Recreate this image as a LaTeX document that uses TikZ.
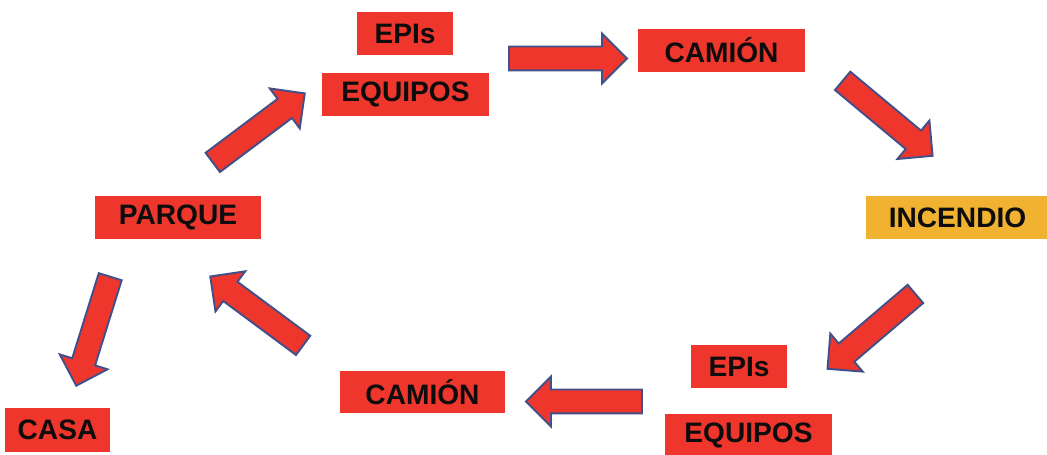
\documentclass[tikz,border=0pt]{standalone}
\usepackage{fontspec}
\setmainfont{Liberation Sans}
\usepackage{tikz}
\usetikzlibrary{shapes.arrows, calc}
\definecolor{boxred}{RGB}{238, 54, 44}
\definecolor{fireorange}{RGB}{241, 178, 50}
\definecolor{arrowedge}{RGB}{66, 80, 138}

\tikzset{
    tag/.style={fill=boxred, text=black!95, inner sep=0pt, minimum height=0.86cm,
        font=\fontsize{16}{18}\selectfont\bfseries},
    bigarrow/.style={single arrow, fill=boxred, draw=arrowedge, line width=1.1pt,
        inner xsep=0pt, inner ysep=0.22cm, single arrow head extend=0.26cm,
        single arrow tip angle=90}
}

% block arrow from #1 to #2
\newcommand{\fatarrow}[2]{%
    \path let \p1=($(#2)-(#1)$), \n1={atan2(\y1,\x1)}, \n2={veclen(\x1,\y1)} in
        ($(#1)!0.5!(#2)$) node[bigarrow, minimum height=\n2, rotate=\n1] {};}

\begin{document}
\begin{tikzpicture}
    \useasboundingbox (0,0) rectangle (20.94,9.1);
    % boxes
    \node[tag, minimum width=1.92cm] (episA) at (8.10,8.43) {EPIs};
    \node[tag, minimum width=3.34cm] (equiposA) at (8.11,7.21) {EQUIPOS};
    \node[tag, minimum width=3.34cm] (camionA) at (14.43,8.09) {CAMIÓN};
    \node[tag, fill=fireorange, minimum width=3.66cm] (incendio) at (19.15,4.75) {INCENDIO};
    \node[tag, minimum width=3.32cm] (parque) at (3.56,4.75) {PARQUE};
    \node[tag, minimum width=2.10cm, minimum height=0.88cm] (casa) at (1.15,0.50) {CASA};
    \node[tag, minimum width=3.30cm, minimum height=0.84cm] (camionB) at (8.45,1.26) {CAMIÓN};
    \node[tag, minimum width=1.92cm] (episB) at (14.78,1.77) {EPIs};
    \node[tag, minimum width=3.34cm] (equiposB) at (14.97,0.39) {EQUIPOS};
    % arrow ends
    \coordinate (p1) at (4.16,5.78);   \coordinate (q1) at (6.00,7.16);
    \coordinate (p2) at (10.06,7.93);  \coordinate (q2) at (12.42,7.93);
    \coordinate (p3) at (16.76,7.56);  \coordinate (q3) at (18.56,6.06);
    \coordinate (p4) at (18.40,3.30);  \coordinate (q4) at (16.64,1.80);
    \coordinate (p5) at (12.96,1.07);  \coordinate (q5) at (10.64,1.07);
    \coordinate (p6) at (6.16,2.12);   \coordinate (q6) at (4.30,3.50);
    \coordinate (p7) at (2.24,3.68);   \coordinate (q7) at (1.56,1.50);
    \foreach \i in {1,...,7}
        \fatarrow{p\i}{q\i};
\end{tikzpicture}
\end{document}
